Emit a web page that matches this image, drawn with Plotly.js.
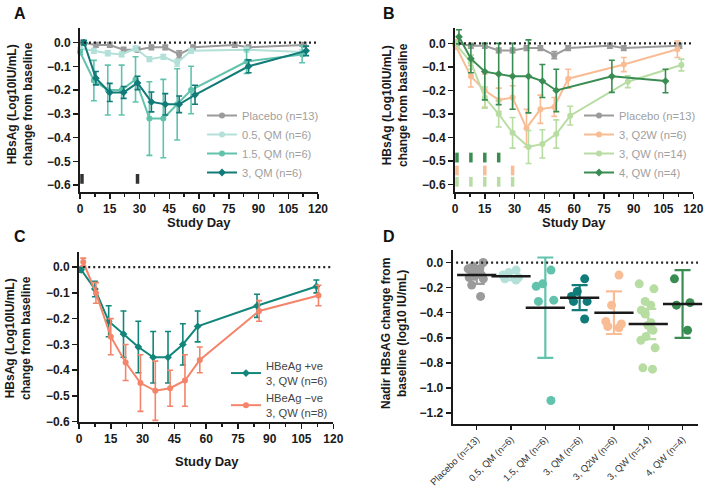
<!DOCTYPE html>
<html>
<head>
<meta charset="utf-8">
<script src="https://cdn.plot.ly/plotly-3.0.1.min.js"></script>
<style>html,body{margin:0;padding:0;background:#fff;}#chart{width:709px;height:488px;}</style>
</head>
<body>
<div id="chart"></div>
<script>
// ---------- Panel A data ----------
const placeboDays = [1, 8, 15, 22, 29, 36, 43, 50, 57, 78, 85, 113];
const placeboVals = [0.0, -0.01, -0.01, -0.03, -0.03, -0.02, -0.02, -0.05, -0.02, -0.01, -0.02, -0.01];
const placeboSD   = [0.01, 0.01, 0.01, 0.01, 0.01, 0.01, 0.01, 0.015, 0.01, 0.01, 0.01, 0.01];

const qm05Days = [0, 7, 14, 21, 28, 35, 42, 49, 56, 84, 112];
const qm05Vals = [-0.025, -0.035, -0.045, -0.05, -0.025, -0.07, -0.06, -0.085, -0.035, -0.03, -0.04];
const qm05SD   = [0.01, 0.01, 0.01, 0.01, 0.01, 0.01, 0.01, 0.015, 0.01, 0.01, 0.01];

const qm15Days = [0, 7, 14, 21, 28, 35, 42, 49, 56, 84, 112];
const qm15Vals = [-0.04, -0.16, -0.20, -0.20, -0.155, -0.32, -0.32, -0.26, -0.20, -0.08, -0.05];
const qm15SD   = [0.01, 0.085, 0.105, 0.105, 0.095, 0.155, 0.165, 0.15, 0.10, 0.05, 0.035];

const qm3Days = [2, 8, 15, 22, 29, 36, 43, 50, 58, 85, 114];
const qm3Vals = [0.0, -0.15, -0.21, -0.21, -0.17, -0.25, -0.26, -0.26, -0.22, -0.10, -0.035];
const qm3SD   = [0.01, 0.028, 0.038, 0.025, 0.028, 0.042, 0.045, 0.035, 0.04, 0.027, 0.02];

const doseDaysA = [1, 29];

// ---------- Panel B data ----------
const q2wDays = [0, 8, 15, 22, 29, 36, 43, 50, 57, 85, 112];
const q2wVals = [-0.005, -0.14, -0.20, -0.24, -0.23, -0.36, -0.28, -0.27, -0.15, -0.09, -0.025];
const q2wSD   = [0.02, 0.045, 0.07, 0.05, 0.05, 0.08, 0.06, 0.04, 0.04, 0.03, 0.035];

const qw3Days = [0, 8, 15, 22, 29, 37, 44, 51, 58, 87, 114];
const qw3Vals = [0.0, -0.08, -0.23, -0.30, -0.38, -0.44, -0.427, -0.385, -0.307, -0.163, -0.092];
const qw3SD   = [0.01, 0.03, 0.045, 0.055, 0.065, 0.07, 0.06, 0.06, 0.04, 0.025, 0.025];

const qw4Days = [2, 8, 15, 22, 29, 37, 44, 51, 79, 106];
const qw4Vals = [0.028, -0.065, -0.12, -0.13, -0.14, -0.14, -0.16, -0.20, -0.14, -0.16];
const qw4SD   = [0.03, 0.06, 0.12, 0.13, 0.14, 0.155, 0.07, 0.09, 0.068, 0.05];

const doseDaysQW4  = [1, 8, 15, 22];
const doseDaysQ2W  = [1, 15, 29];
const doseDaysQW3  = [1, 8, 15, 22, 29];

// ---------- Panel C data ----------
const posDays = [1, 7.5, 14, 21, 28, 35, 42, 49, 56, 84, 112];
const posVals = [-0.01, -0.085, -0.21, -0.26, -0.31, -0.35, -0.35, -0.30, -0.23, -0.15, -0.075];
const posSD   = [0.01, 0.03, 0.06, 0.09, 0.10, 0.10, 0.10, 0.08, 0.06, 0.045, 0.025];

const negDays = [2, 8, 15, 22, 29, 36, 43, 50, 57, 85, 113];
const negVals = [0.02, -0.10, -0.27, -0.37, -0.45, -0.48, -0.47, -0.44, -0.36, -0.17, -0.11];
const negSD   = [0.015, 0.04, 0.07, 0.07, 0.11, 0.115, 0.07, 0.10, 0.05, 0.04, 0.04];

// ---------- Panel D data ----------
const groupsD = ['Placebo (n=13)', '0.5, QM (n=6)', '1.5, QM (n=6)', '3, QM (n=6)', '3, Q2W (n=6)', '3, QW (n=14)', '4, QW (n=4)'];
const nadirPlacebo = [0.0, -0.03, -0.05, -0.05, -0.08, -0.09, -0.09, -0.10, -0.11, -0.12, -0.13, -0.18, -0.27];
const nadirQM05 = [-0.06, -0.08, -0.10, -0.12, -0.13, -0.14];
const nadirQM15 = [-0.06, -0.17, -0.19, -0.30, -0.31, -1.10];
const nadirQM3  = [-0.13, -0.23, -0.27, -0.31, -0.31, -0.45];
const nadirQ2W  = [-0.10, -0.34, -0.47, -0.49, -0.51, -0.52];
const nadirQW3  = [-0.17, -0.21, -0.31, -0.34, -0.38, -0.41, -0.48, -0.50, -0.54, -0.59, -0.62, -0.68, -0.84, -0.85];
const nadirQW4  = [-0.13, -0.32, -0.34, -0.54];
const meansD = [-0.10, -0.11, -0.36, -0.28, -0.40, -0.49, -0.33];
const sdD    = [0.07, 0.03, 0.40, 0.10, 0.17, 0.12, 0.27];

// ---------- colours ----------
const C_PLA = '#9b9b9b', C_05 = '#b3e0d9', C_15 = '#62c3ad', C_3QM = '#107b79';
const C_Q2W = '#f9bd96', C_QW3 = '#b7dda3', C_QW4 = '#3a8d52';
const C_POS = '#13867b', C_NEG = '#f4846a';
const colorsD = [C_PLA, C_05, C_15, C_3QM, C_Q2W, C_QW3, C_QW4];

const W = 709, H = 488;
const px = v => v / W;
const py = v => 1 - v / H;
const FONT = 'Liberation Sans, Arial, sans-serif';

function series(x, y, sd, color, name, xa, ya, legend, symbol, showlegend) {
  return {
    type: 'scatter', mode: 'lines+markers', x: x, y: y, name: name,
    xaxis: xa, yaxis: ya, legend: legend, showlegend: showlegend !== false,
    cliponaxis: false,
    line: {color: color, width: 2},
    marker: {color: color, size: 6, symbol: symbol || 'circle'},
    error_y: {type: 'data', array: sd, visible: true, color: color, thickness: 1.6, width: 3}
  };
}
function doses(days, yv, color, xa, ya) {
  return {
    type: 'scatter', mode: 'markers', x: days, y: days.map(() => yv),
    xaxis: xa, yaxis: ya, showlegend: false, cliponaxis: false,
    marker: {symbol: 'line-ns', size: 7, line: {width: 3.5, color: color}}
  };
}

const traces = [];
// Panel A
traces.push(series(placeboDays, placeboVals, placeboSD, C_PLA, 'Placebo (n=13)', 'x', 'y', 'legend'));
traces.push(series(qm05Days, qm05Vals, qm05SD, C_05, '0.5, QM (n=6)', 'x', 'y', 'legend'));
traces.push(series(qm15Days, qm15Vals, qm15SD, C_15, '1.5, QM (n=6)', 'x', 'y', 'legend'));
traces.push(series(qm3Days, qm3Vals, qm3SD, C_3QM, '3, QM (n=6)', 'x', 'y', 'legend', 'diamond'));
traces.push(doses(doseDaysA, -0.574, '#333', 'x', 'y'));
// Panel B
traces.push(series(placeboDays, placeboVals, placeboSD, C_PLA, 'Placebo (n=13)', 'x2', 'y2', 'legend2'));
traces.push(series(q2wDays, q2wVals, q2wSD, C_Q2W, '3, Q2W (n=6)', 'x2', 'y2', 'legend2'));
traces.push(series(qw3Days, qw3Vals, qw3SD, C_QW3, '3, QW (n=14)', 'x2', 'y2', 'legend2'));
traces.push(series(qw4Days, qw4Vals, qw4SD, C_QW4, '4, QW (n=4)', 'x2', 'y2', 'legend2', 'diamond'));
traces.push(doses(doseDaysQW4, -0.485, C_QW4, 'x2', 'y2'));
traces.push(doses(doseDaysQ2W, -0.54, C_Q2W, 'x2', 'y2'));
traces.push(doses(doseDaysQW3, -0.588, C_QW3, 'x2', 'y2'));
// Panel C
traces.push(series(posDays, posVals, posSD, C_POS, 'HBeAg +ve<br>3, QW (n=6)', 'x3', 'y3', 'legend3', 'diamond'));
traces.push(series(negDays, negVals, negSD, C_NEG, 'HBeAg −ve<br>3, QW (n=8)', 'x3', 'y3', 'legend3'));
// Panel D
const nadirSets = [nadirPlacebo, nadirQM05, nadirQM15, nadirQM3, nadirQ2W, nadirQW3, nadirQW4];
const jitters = [1.0, 0.8, 0.9, 0.8, 0.8, 0.8, 0.8];
nadirSets.forEach((vals, i) => {
  traces.push({
    type: 'box', x: vals.map(() => groupsD[i]), y: vals, xaxis: 'x4', yaxis: 'y4',
    boxpoints: 'all', jitter: jitters[i], pointpos: 0, width: 0.7,
    fillcolor: 'rgba(0,0,0,0)', line: {width: 0, color: 'rgba(0,0,0,0)'}, whiskerwidth: 0,
    marker: {color: colorsD[i], size: 9, line: {width: 0}}, showlegend: false, hoveron: 'points'
  });
});
groupsD.forEach((g, i) => {
  traces.push({
    type: 'scatter', mode: 'markers', x: [g], y: [meansD[i]], xaxis: 'x4', yaxis: 'y4',
    showlegend: false, cliponaxis: false,
    marker: {symbol: 'line-ew', size: 28, line: {width: 2.5, color: '#1a1a1a'}},
    error_y: {type: 'data', array: [sdD[i]], visible: true, color: colorsD[i], thickness: 2.2, width: 8}
  });
});

const tickFont = {family: FONT, size: 12, color: '#1a1a1a', weight: 'bold'};
function ax(extra) {
  return Object.assign({
    showline: true, linecolor: '#1a1a1a', linewidth: 2, mirror: false,
    ticks: 'outside', ticklen: 5, tickwidth: 1.5, tickcolor: '#1a1a1a',
    showgrid: false, zeroline: false, tickfont: tickFont, fixedrange: true
  }, extra);
}
const xDay = d => ax({domain: d, range: [0, 120], tick0: 0, dtick: 15,
  minor: {dtick: 7.5, tick0: 0, ticks: 'outside', ticklen: 3, tickwidth: 1.5, tickcolor: '#1a1a1a'}});

const layout = {
  width: W, height: H, margin: {l: 0, r: 0, t: 0, b: 0},
  paper_bgcolor: '#fff', plot_bgcolor: '#fff', hovermode: false,
  font: {family: FONT},
  boxmode: 'overlay',
  xaxis: xDay([px(80), px(318)]),
  yaxis: ax({domain: [py(191.7), py(28.3)], range: [-0.628, 0.06], tick0: 0, dtick: 0.1, tickformat: '.1f'}),
  xaxis2: Object.assign(xDay([px(455), px(693.3)]), {anchor: 'y2'}),
  yaxis2: ax({domain: [py(191.7), py(28.3)], range: [-0.63, 0.064], tick0: 0, dtick: 0.1, tickformat: '.1f', anchor: 'x2'}),
  xaxis3: Object.assign(xDay([px(79), px(333.3)]), {anchor: 'y3'}),
  yaxis3: ax({domain: [py(421.7), py(251.7)], range: [-0.6, 0.06], tick0: 0, dtick: 0.1, tickformat: '.1f', anchor: 'x3'}),
  xaxis4: ax({domain: [px(452.7), px(698)], type: 'category', categoryorder: 'array', categoryarray: groupsD,
    range: [-0.7, 6.45], anchor: 'y4', tickangle: -45, ticklen: 4,
    tickfont: {family: FONT, size: 9.5, color: '#333'}}),
  yaxis4: ax({domain: [py(424.3), py(250)], range: [-1.29, 0.1], tick0: 0, dtick: 0.2, tickformat: '.1f', anchor: 'x4'}),
  legend: {x: px(202), y: py(101), xanchor: 'left', yanchor: 'top', bgcolor: 'rgba(0,0,0,0)',
    font: {family: FONT, size: 11.2, color: '#a0a0a0'}, itemwidth: 30, tracegroupgap: 0},
  legend2: {x: px(579), y: py(101), xanchor: 'left', yanchor: 'top', bgcolor: 'rgba(0,0,0,0)',
    font: {family: FONT, size: 11.2, color: '#a0a0a0'}, itemwidth: 30, tracegroupgap: 0},
  legend3: {x: px(226), y: py(352), xanchor: 'left', yanchor: 'top', bgcolor: 'rgba(0,0,0,0)',
    font: {family: FONT, size: 11.2, color: '#444'}, itemwidth: 30, tracegroupgap: 0},
  shapes: [
    {type: 'line', xref: 'x', yref: 'y', x0: 2, x1: 120, y0: 0, y1: 0, line: {color: '#222', width: 2.2, dash: '2px,3px'}},
    {type: 'line', xref: 'x2', yref: 'y2', x0: 2, x1: 120, y0: 0, y1: 0, line: {color: '#222', width: 2.2, dash: '2px,3px'}},
    {type: 'line', xref: 'x3', yref: 'y3', x0: 2, x1: 120, y0: 0, y1: 0, line: {color: '#222', width: 2.2, dash: '2px,3px'}},
    {type: 'line', xref: 'x4', yref: 'y4', x0: -0.6, x1: 6.45, y0: 0, y1: 0, line: {color: '#222', width: 2.2, dash: '2px,3px'}}
  ],
  annotations: [
    {text: '<b>A</b>', x: px(12), y: py(3), xref: 'paper', yref: 'paper', xanchor: 'left', yanchor: 'top', showarrow: false, font: {family: FONT, size: 16, color: '#111'}},
    {text: '<b>B</b>', x: px(381), y: py(3), xref: 'paper', yref: 'paper', xanchor: 'left', yanchor: 'top', showarrow: false, font: {family: FONT, size: 16, color: '#111'}},
    {text: '<b>C</b>', x: px(12), y: py(226), xref: 'paper', yref: 'paper', xanchor: 'left', yanchor: 'top', showarrow: false, font: {family: FONT, size: 16, color: '#111'}},
    {text: '<b>D</b>', x: px(381), y: py(226), xref: 'paper', yref: 'paper', xanchor: 'left', yanchor: 'top', showarrow: false, font: {family: FONT, size: 16, color: '#111'}},
    {text: '<b>Study Day</b>', x: px(199), y: py(222), xref: 'paper', yref: 'paper', xanchor: 'center', yanchor: 'middle', showarrow: false, font: {family: FONT, size: 13, color: '#1a1a1a'}},
    {text: '<b>Study Day</b>', x: px(574), y: py(222), xref: 'paper', yref: 'paper', xanchor: 'center', yanchor: 'middle', showarrow: false, font: {family: FONT, size: 13, color: '#1a1a1a'}},
    {text: '<b>Study Day</b>', x: px(207), y: py(461), xref: 'paper', yref: 'paper', xanchor: 'center', yanchor: 'middle', showarrow: false, font: {family: FONT, size: 13, color: '#1a1a1a'}},
    {text: '<b>HBsAg (Log10IU/mL)<br>change from baseline</b>', x: px(20), y: py(104), xref: 'paper', yref: 'paper', xanchor: 'center', yanchor: 'middle', textangle: -90, showarrow: false, font: {family: FONT, size: 12, color: '#1a1a1a'}},
    {text: '<b>HBsAg (Log10IU/mL)<br>change from baseline</b>', x: px(395), y: py(105), xref: 'paper', yref: 'paper', xanchor: 'center', yanchor: 'middle', textangle: -90, showarrow: false, font: {family: FONT, size: 12, color: '#1a1a1a'}},
    {text: '<b>HBsAg (Log10IU/mL)<br>change from baseline</b>', x: px(18), y: py(338), xref: 'paper', yref: 'paper', xanchor: 'center', yanchor: 'middle', textangle: -90, showarrow: false, font: {family: FONT, size: 12, color: '#1a1a1a'}},
    {text: '<b>Nadir HBsAG change from<br>baseline (log10 IU/mL)</b>', x: px(394), y: py(334), xref: 'paper', yref: 'paper', xanchor: 'center', yanchor: 'middle', textangle: -90, showarrow: false, font: {family: FONT, size: 12, color: '#1a1a1a'}}
  ]
};

Plotly.newPlot('chart', traces, layout, {staticPlot: true, displayModeBar: false});
</script>
</body>
</html>
